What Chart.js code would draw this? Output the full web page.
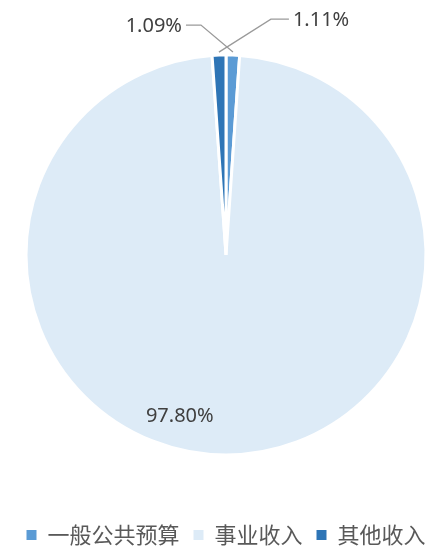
<!DOCTYPE html>
<html lang="zh">
<head>
    <meta charset="UTF-8">
    <title>收入构成</title>
    <script src="https://cdn.jsdelivr.net/npm/chart.js"></script>
    <style>
        body {
            margin: 0;
            background: #ffffff;
        }
        #wrap {
            width: 442px;
            height: 546px;
            position: relative;
        }
    </style>
</head>
<body>
    <div id="wrap"><canvas id="pie"></canvas></div>

    <script>
        // data
        const categories = ["一般公共预算", "事业收入", "其他收入"];
        const shares = [1.09, 97.80, 1.11];
        const pctLabels = ["1.09%", "97.80%", "1.11%"];
        const sliceColors = ["#5B9BD5", "#DDEBF7", "#2E75B6"];

        // labels for the two thin slices are swapped across the top, lines cross
        const sliceLabels = {
            id: "sliceLabels",
            afterDatasetsDraw(chart) {
                const ctx = chart.ctx;
                const arcs = chart.getDatasetMeta(0).data;
                ctx.save();
                ctx.font = "20px 'Noto Sans', sans-serif";
                ctx.fillStyle = "#404040";
                ctx.textBaseline = "middle";
                ctx.strokeStyle = "#9A9A9A";
                ctx.lineWidth = 1.3;

                arcs.forEach((arc, i) => {
                    const p = arc.getProps(["x", "y", "startAngle", "endAngle", "outerRadius"], true);
                    const mid = (p.startAngle + p.endAngle) / 2;
                    const text = pctLabels[i];

                    if (shares[i] > 5) {
                        // inside label, pushed a bit round the slice like excel's best fit
                        const a = mid + 16 * Math.PI / 180;
                        const r = p.outerRadius * 0.84;
                        ctx.textAlign = "center";
                        ctx.fillText(text, p.x + Math.cos(a) * r, p.y + Math.sin(a) * r);
                        return;
                    }

                    const tx = p.x + Math.cos(mid) * (p.outerRadius + 3);
                    const ty = p.y + Math.sin(mid) * (p.outerRadius + 3);
                    const goLeft = Math.cos(mid) > 0;
                    let ex, ey, hx;
                    if (goLeft) {
                        ex = tx - 32; ey = ty - 27; hx = ex - 15;
                    } else {
                        ex = tx + 52; ey = ty - 33; hx = ex + 18;
                    }
                    ctx.beginPath();
                    ctx.moveTo(tx, ty);
                    ctx.lineTo(ex, ey);
                    ctx.lineTo(hx, ey);
                    ctx.stroke();

                    ctx.textAlign = goLeft ? "right" : "left";
                    ctx.fillText(text, goLeft ? hx - 4 : hx + 4, ey + 1);
                });
                ctx.restore();
            }
        };

        new Chart(document.getElementById("pie"), {
            type: "pie",
            data: {
                labels: categories,
                datasets: [{
                    data: shares,
                    backgroundColor: sliceColors,
                    borderColor: "#ffffff",
                    borderWidth: 3
                }]
            },
            options: {
                responsive: true,
                maintainAspectRatio: false,
                animation: false,
                radius: 200,
                layout: {
                    padding: { top: 0, left: 10, right: 0, bottom: -10 }
                },
                plugins: {
                    tooltip: { enabled: false },
                    legend: {
                        position: "bottom",
                        labels: {
                            font: { family: "'Noto Sans CJK SC', sans-serif", size: 22 },
                            color: "#595959",
                            boxWidth: 10,
                            boxHeight: 10,
                            padding: 14,
                            generateLabels(chart) {
                                const items = Chart.overrides.pie.plugins.legend.labels.generateLabels(chart);
                                items.forEach(it => { it.lineWidth = 0; });
                                return items;
                            }
                        }
                    }
                }
            },
            plugins: [sliceLabels]
        });
    </script>
</body>
</html>
